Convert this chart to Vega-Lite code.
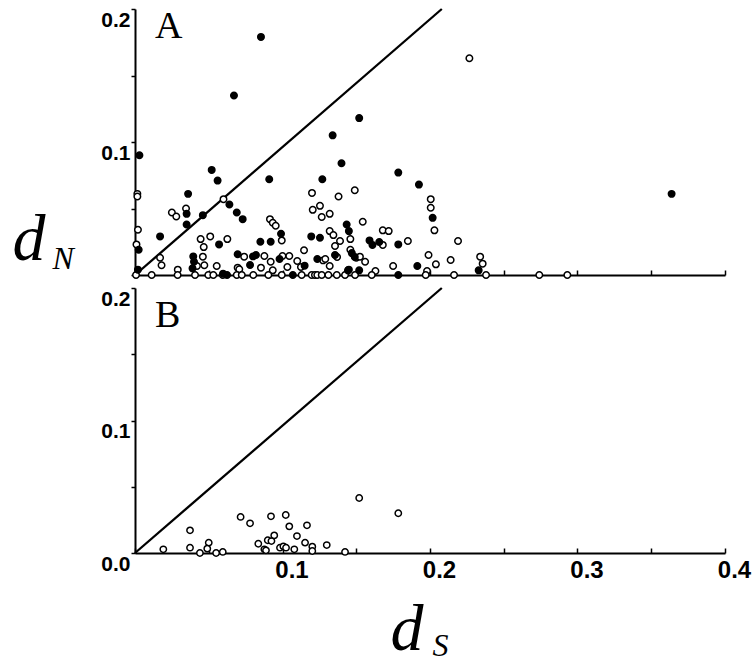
{
  "$schema": "https://vega.github.io/schema/vega-lite/v6.json",
  "background": "white",
  "padding": {"left": 12, "top": 4, "right": 5, "bottom": 2},
  "bounds": "flush",
  "spacing": 13,
  "datasets": {
    "diag": [{"ds": 0, "dn": 0}, {"ds": 0.208, "dn": 0.2}],
    "A": [
      {"ds":0.0016,"dn":0.061,"type":"open"},{"ds":0.0016,"dn":0.059,"type":"open"},{"ds":0.002,"dn":0.034,"type":"open"},{"ds":0.001,"dn":0.023,"type":"open"},
      {"ds":0.025,"dn":0.047,"type":"open"},{"ds":0.028,"dn":0.044,"type":"open"},{"ds":0.0346,"dn":0.050,"type":"open"},{"ds":0.060,"dn":0.057,"type":"open"},
      {"ds":0.017,"dn":0.013,"type":"open"},{"ds":0.018,"dn":0.0073,"type":"open"},{"ds":0.0445,"dn":0.027,"type":"open"},{"ds":0.0466,"dn":0.021,"type":"open"},
      {"ds":0.051,"dn":0.029,"type":"open"},{"ds":0.0626,"dn":0.027,"type":"open"},{"ds":0.046,"dn":0.0138,"type":"open"},{"ds":0.047,"dn":0.0073,"type":"open"},
      {"ds":0.0554,"dn":0.0068,"type":"open"},{"ds":0.029,"dn":0.004,"type":"open"},{"ds":0.042,"dn":0.0068,"type":"open"},{"ds":0.0696,"dn":0.0055,"type":"open"},
      {"ds":0.0707,"dn":0.0043,"type":"open"},{"ds":0.074,"dn":0.0138,"type":"open"},{"ds":0.0877,"dn":0.0143,"type":"open"},{"ds":0.0854,"dn":0.0055,"type":"open"},
      {"ds":0.0915,"dn":0.042,"type":"open"},{"ds":0.0934,"dn":0.0393,"type":"open"},{"ds":0.0954,"dn":0.037,"type":"open"},{"ds":0.0995,"dn":0.026,"type":"open"},
      {"ds":0.100,"dn":0.0143,"type":"open"},{"ds":0.1046,"dn":0.0143,"type":"open"},{"ds":0.092,"dn":0.010,"type":"open"},{"ds":0.0934,"dn":0.0035,"type":"open"},
      {"ds":0.1033,"dn":0.006,"type":"open"},{"ds":0.110,"dn":0.0105,"type":"open"},{"ds":0.1146,"dn":0.0186,"type":"open"},{"ds":0.1125,"dn":0.006,"type":"open"},
      {"ds":0.120,"dn":0.0617,"type":"open"},{"ds":0.1205,"dn":0.049,"type":"open"},{"ds":0.1254,"dn":0.052,"type":"open"},{"ds":0.1266,"dn":0.0436,"type":"open"},
      {"ds":0.132,"dn":0.046,"type":"open"},{"ds":0.138,"dn":0.059,"type":"open"},{"ds":0.149,"dn":0.0637,"type":"open"},{"ds":0.132,"dn":0.033,"type":"open"},
      {"ds":0.1345,"dn":0.030,"type":"open"},{"ds":0.1356,"dn":0.0218,"type":"open"},{"ds":0.139,"dn":0.0256,"type":"open"},{"ds":0.146,"dn":0.027,"type":"open"},
      {"ds":0.146,"dn":0.019,"type":"open"},{"ds":0.1275,"dn":0.011,"type":"open"},{"ds":0.129,"dn":0.012,"type":"open"},{"ds":0.132,"dn":0.0068,"type":"open"},
      {"ds":0.137,"dn":0.0135,"type":"open"},{"ds":0.150,"dn":0.013,"type":"open"},{"ds":0.1544,"dn":0.040,"type":"open"},{"ds":0.168,"dn":0.0336,"type":"open"},
      {"ds":0.172,"dn":0.033,"type":"open"},{"ds":0.2005,"dn":0.057,"type":"open"},{"ds":0.2005,"dn":0.0506,"type":"open"},{"ds":0.203,"dn":0.0336,"type":"open"},
      {"ds":0.219,"dn":0.0256,"type":"open"},{"ds":0.185,"dn":0.0256,"type":"open"},{"ds":0.168,"dn":0.0226,"type":"open"},{"ds":0.1525,"dn":0.0138,"type":"open"},
      {"ds":0.156,"dn":0.010,"type":"open"},{"ds":0.175,"dn":0.0068,"type":"open"},{"ds":0.163,"dn":0.003,"type":"open"},{"ds":0.199,"dn":0.015,"type":"open"},
      {"ds":0.204,"dn":0.008,"type":"open"},{"ds":0.198,"dn":0.003,"type":"open"},{"ds":0.214,"dn":0.0113,"type":"open"},{"ds":0.234,"dn":0.0138,"type":"open"},
      {"ds":0.2357,"dn":0.0085,"type":"open"},{"ds":0.2267,"dn":0.163,"type":"open"},
      {"ds":0.0007,"dn":0,"type":"open"},{"ds":0.0113,"dn":0,"type":"open"},{"ds":0.0289,"dn":0,"type":"open"},{"ds":0.0407,"dn":0,"type":"open"},
      {"ds":0.0497,"dn":0,"type":"open"},{"ds":0.0531,"dn":0,"type":"open"},{"ds":0.0595,"dn":0,"type":"open"},{"ds":0.069,"dn":0,"type":"open"},
      {"ds":0.0724,"dn":0,"type":"open"},{"ds":0.0802,"dn":0,"type":"open"},{"ds":0.0904,"dn":0,"type":"open"},{"ds":0.0995,"dn":0,"type":"open"},
      {"ds":0.1130,"dn":0,"type":"open"},{"ds":0.1198,"dn":0,"type":"open"},{"ds":0.1220,"dn":0,"type":"open"},{"ds":0.1236,"dn":0,"type":"open"},
      {"ds":0.1266,"dn":0,"type":"open"},{"ds":0.1311,"dn":0,"type":"open"},{"ds":0.1368,"dn":0,"type":"open"},{"ds":0.1424,"dn":0,"type":"open"},
      {"ds":0.1492,"dn":0,"type":"open"},{"ds":0.1605,"dn":0,"type":"open"},{"ds":0.1971,"dn":0,"type":"open"},{"ds":0.2163,"dn":0,"type":"open"},
      {"ds":0.2380,"dn":0,"type":"open"},{"ds":0.2741,"dn":0,"type":"open"},{"ds":0.2931,"dn":0,"type":"open"},
      {"ds":0.003,"dn":0.090,"type":"filled"},{"ds":0.052,"dn":0.079,"type":"filled"},{"ds":0.056,"dn":0.071,"type":"filled"},{"ds":0.036,"dn":0.061,"type":"filled"},
      {"ds":0.046,"dn":0.045,"type":"filled"},{"ds":0.035,"dn":0.038,"type":"filled"},{"ds":0.035,"dn":0.046,"type":"filled"},{"ds":0.017,"dn":0.029,"type":"filled"},
      {"ds":0.0025,"dn":0.019,"type":"filled"},{"ds":0.002,"dn":0.004,"type":"filled"},{"ds":0.057,"dn":0.023,"type":"filled"},{"ds":0.064,"dn":0.053,"type":"filled"},
      {"ds":0.069,"dn":0.047,"type":"filled"},{"ds":0.073,"dn":0.042,"type":"filled"},{"ds":0.091,"dn":0.072,"type":"filled"},{"ds":0.085,"dn":0.025,"type":"filled"},
      {"ds":0.092,"dn":0.025,"type":"filled"},{"ds":0.099,"dn":0.031,"type":"filled"},{"ds":0.134,"dn":0.105,"type":"filled"},{"ds":0.140,"dn":0.084,"type":"filled"},
      {"ds":0.127,"dn":0.072,"type":"filled"},{"ds":0.1435,"dn":0.038,"type":"filled"},{"ds":0.145,"dn":0.033,"type":"filled"},{"ds":0.1195,"dn":0.029,"type":"filled"},
      {"ds":0.1254,"dn":0.028,"type":"filled"},{"ds":0.0395,"dn":0.014,"type":"filled"},{"ds":0.040,"dn":0.010,"type":"filled"},{"ds":0.0696,"dn":0.0156,"type":"filled"},
      {"ds":0.080,"dn":0.014,"type":"filled"},{"ds":0.082,"dn":0.015,"type":"filled"},{"ds":0.078,"dn":0.0075,"type":"filled"},{"ds":0.098,"dn":0.012,"type":"filled"},
      {"ds":0.107,"dn":0,"type":"filled"},{"ds":0.1236,"dn":0.012,"type":"filled"},{"ds":0.1356,"dn":0.015,"type":"filled"},{"ds":0.1444,"dn":0.0035,"type":"filled"},
      {"ds":0.0624,"dn":0,"type":"filled"},{"ds":0.0597,"dn":0.001,"type":"filled"},{"ds":0.115,"dn":0.007,"type":"filled"},{"ds":0.1785,"dn":0.077,"type":"filled"},
      {"ds":0.1925,"dn":0.068,"type":"filled"},{"ds":0.2018,"dn":0.043,"type":"filled"},{"ds":0.159,"dn":0.026,"type":"filled"},{"ds":0.161,"dn":0.0226,"type":"filled"},
      {"ds":0.1656,"dn":0.0248,"type":"filled"},{"ds":0.1785,"dn":0.023,"type":"filled"},{"ds":0.149,"dn":0.0135,"type":"filled"},{"ds":0.147,"dn":0.0165,"type":"filled"},
      {"ds":0.152,"dn":0.0035,"type":"filled"},{"ds":0.145,"dn":0.004,"type":"filled"},{"ds":0.1914,"dn":0.0068,"type":"filled"},{"ds":0.1785,"dn":0,"type":"filled"},
      {"ds":0.233,"dn":0.0035,"type":"filled"},{"ds":0.3638,"dn":0.061,"type":"filled"},{"ds":0.152,"dn":0.118,"type":"filled"},{"ds":0.0854,"dn":0.179,"type":"filled"},
      {"ds":0.0671,"dn":0.135,"type":"filled"},{"ds":0.039,"dn":0.005,"type":"filled"}
    ],
    "B": [
      {"ds":0.0192,"dn":0.0028},{"ds":0.0373,"dn":0.0171},{"ds":0.0373,"dn":0.004},{"ds":0.044,"dn":0.0},{"ds":0.050,"dn":0.0078},
      {"ds":0.049,"dn":0.0033},{"ds":0.055,"dn":0.0},{"ds":0.0595,"dn":0.0008},{"ds":0.0716,"dn":0.0272},{"ds":0.078,"dn":0.0224},
      {"ds":0.0836,"dn":0.007},{"ds":0.0877,"dn":0.0028},{"ds":0.0888,"dn":0.002},{"ds":0.09,"dn":0.0096},{"ds":0.0922,"dn":0.0277},
      {"ds":0.0925,"dn":0.009},{"ds":0.0944,"dn":0.0133},{"ds":0.0983,"dn":0.004},{"ds":0.1006,"dn":0.005},{"ds":0.1024,"dn":0.004},
      {"ds":0.1022,"dn":0.0287},{"ds":0.1046,"dn":0.0201},{"ds":0.108,"dn":0.0028},{"ds":0.1098,"dn":0.0128},{"ds":0.1153,"dn":0.0078},
      {"ds":0.1166,"dn":0.0209},{"ds":0.1202,"dn":0.0048},{"ds":0.1202,"dn":0.0015},{"ds":0.13,"dn":0.006},{"ds":0.1424,"dn":0.0008},
      {"ds":0.152,"dn":0.0415},{"ds":0.1785,"dn":0.030}
    ]
  },
  "vconcat": [
    {
      "width": 590,
      "height": 266,
      "layer": [
        {
          "data": {"name": "diag"},
          "mark": {"type": "line", "color": "black", "strokeWidth": 2.3},
          "encoding": {
            "x": {"field": "ds", "type": "quantitative", "scale": {"domain": [0, 0.4], "nice": false, "zero": false},
              "axis": {"values": [0,0.05,0.1,0.15,0.2,0.25,0.3,0.35,0.4], "labels": false, "tickSize": -5,
                "title": "S", "titleX": 297, "titleY": 380, "titleAlign": "left", "titleBaseline": "alphabetic", "titleAngle": 0, "titleFontSize": 32}},
            "y": {"field": "dn", "type": "quantitative", "scale": {"domain": [0, 0.2], "nice": false, "zero": false},
              "axis": {"values": [0,0.05,0.1,0.15,0.2], "labelExpr": "datum.value == 0.1 || datum.value == 0.2 ? format(datum.value, '.1f') : ''",
                "tickSize": 4, "labelPadding": 1, "labelBaseline": "top", "labelFontSize": 21, "labelFlush": false, "labelOverlap": false,
                "title": "d", "titleX": -123, "titleY": 250, "titleAlign": "left", "titleBaseline": "alphabetic", "titleAngle": 0, "titleFontSize": 66}}
          }
        },
        {
          "data": {"name": "A"},
          "mark": {"type": "point", "shape": "circle", "filled": true, "stroke": "black", "strokeWidth": 1.5, "size": 42, "opacity": 1},
          "encoding": {
            "x": {"field": "ds", "type": "quantitative"},
            "y": {"field": "dn", "type": "quantitative"},
            "fill": {"field": "type", "type": "nominal", "scale": {"domain": ["filled", "open"], "range": ["black", "white"]}, "legend": null}
          }
        },
        {
          "data": {"values": [{"label": "A"}]},
          "mark": {"type": "text", "font": "Liberation Serif", "fontSize": 38, "align": "left", "baseline": "alphabetic", "color": "black"},
          "encoding": {
            "x": {"datum": 0.0136, "type": "quantitative"},
            "y": {"datum": 0.178, "type": "quantitative"},
            "text": {"field": "label"}
          }
        }
      ]
    },
    {
      "width": 590,
      "height": 265,
      "layer": [
        {
          "data": {"name": "diag"},
          "mark": {"type": "line", "color": "black", "strokeWidth": 2.3},
          "encoding": {
            "x": {"field": "ds", "type": "quantitative", "scale": {"domain": [0, 0.4], "nice": false, "zero": false},
              "axis": {"values": [0,0.05,0.1,0.15,0.2,0.25,0.3,0.35,0.4],
                "labelExpr": "datum.value > 0.09 && abs(datum.value * 10 - round(datum.value * 10)) < 0.001 ? format(datum.value, '.1f') : ''",
                "tickSize": -5, "labelPadding": 10, "labelBaseline": "top", "labelOffset": 9, "labelFontSize": 24, "labelFlush": false, "labelOverlap": false,
                "title": "d", "titleX": 255, "titleY": 96, "titleAlign": "left", "titleBaseline": "alphabetic", "titleAngle": 0, "titleFontSize": 66}},
            "y": {"field": "dn", "type": "quantitative", "scale": {"domain": [0, 0.2], "nice": false, "zero": false},
              "axis": {"values": [0,0.05,0.1,0.15,0.2], "labelExpr": "datum.value == 0 || datum.value == 0.1 || datum.value == 0.2 ? format(datum.value, '.1f') : ''",
                "tickSize": 4, "labelPadding": 1, "labelBaseline": "top", "labelFontSize": 21, "labelFlush": false, "labelOverlap": false,
                "title": "N", "titleX": -83, "titleY": -20, "titleAlign": "left", "titleBaseline": "alphabetic", "titleAngle": 0, "titleFontSize": 32}}
          }
        },
        {
          "data": {"name": "B"},
          "mark": {"type": "point", "shape": "circle", "filled": true, "fill": "white", "stroke": "black", "strokeWidth": 1.5, "size": 40, "opacity": 1},
          "encoding": {
            "x": {"field": "ds", "type": "quantitative"},
            "y": {"field": "dn", "type": "quantitative"}
          }
        },
        {
          "data": {"values": [{"label": "B"}]},
          "mark": {"type": "text", "font": "Liberation Serif", "fontSize": 38, "align": "left", "baseline": "alphabetic", "color": "black"},
          "encoding": {
            "x": {"datum": 0.0136, "type": "quantitative"},
            "y": {"datum": 0.1706, "type": "quantitative"},
            "text": {"field": "label"}
          }
        }
      ]
    }
  ],
  "config": {
    "view": {"stroke": null},
    "axis": {
      "grid": false, "domainColor": "black", "domainWidth": 2, "tickColor": "black", "tickWidth": 1.5,
      "labelFont": "Liberation Sans", "labelFontWeight": "bold", "labelColor": "black",
      "titleFont": "Liberation Serif", "titleFontStyle": "italic", "titleFontWeight": "normal", "titleColor": "black"
    }
  }
}
